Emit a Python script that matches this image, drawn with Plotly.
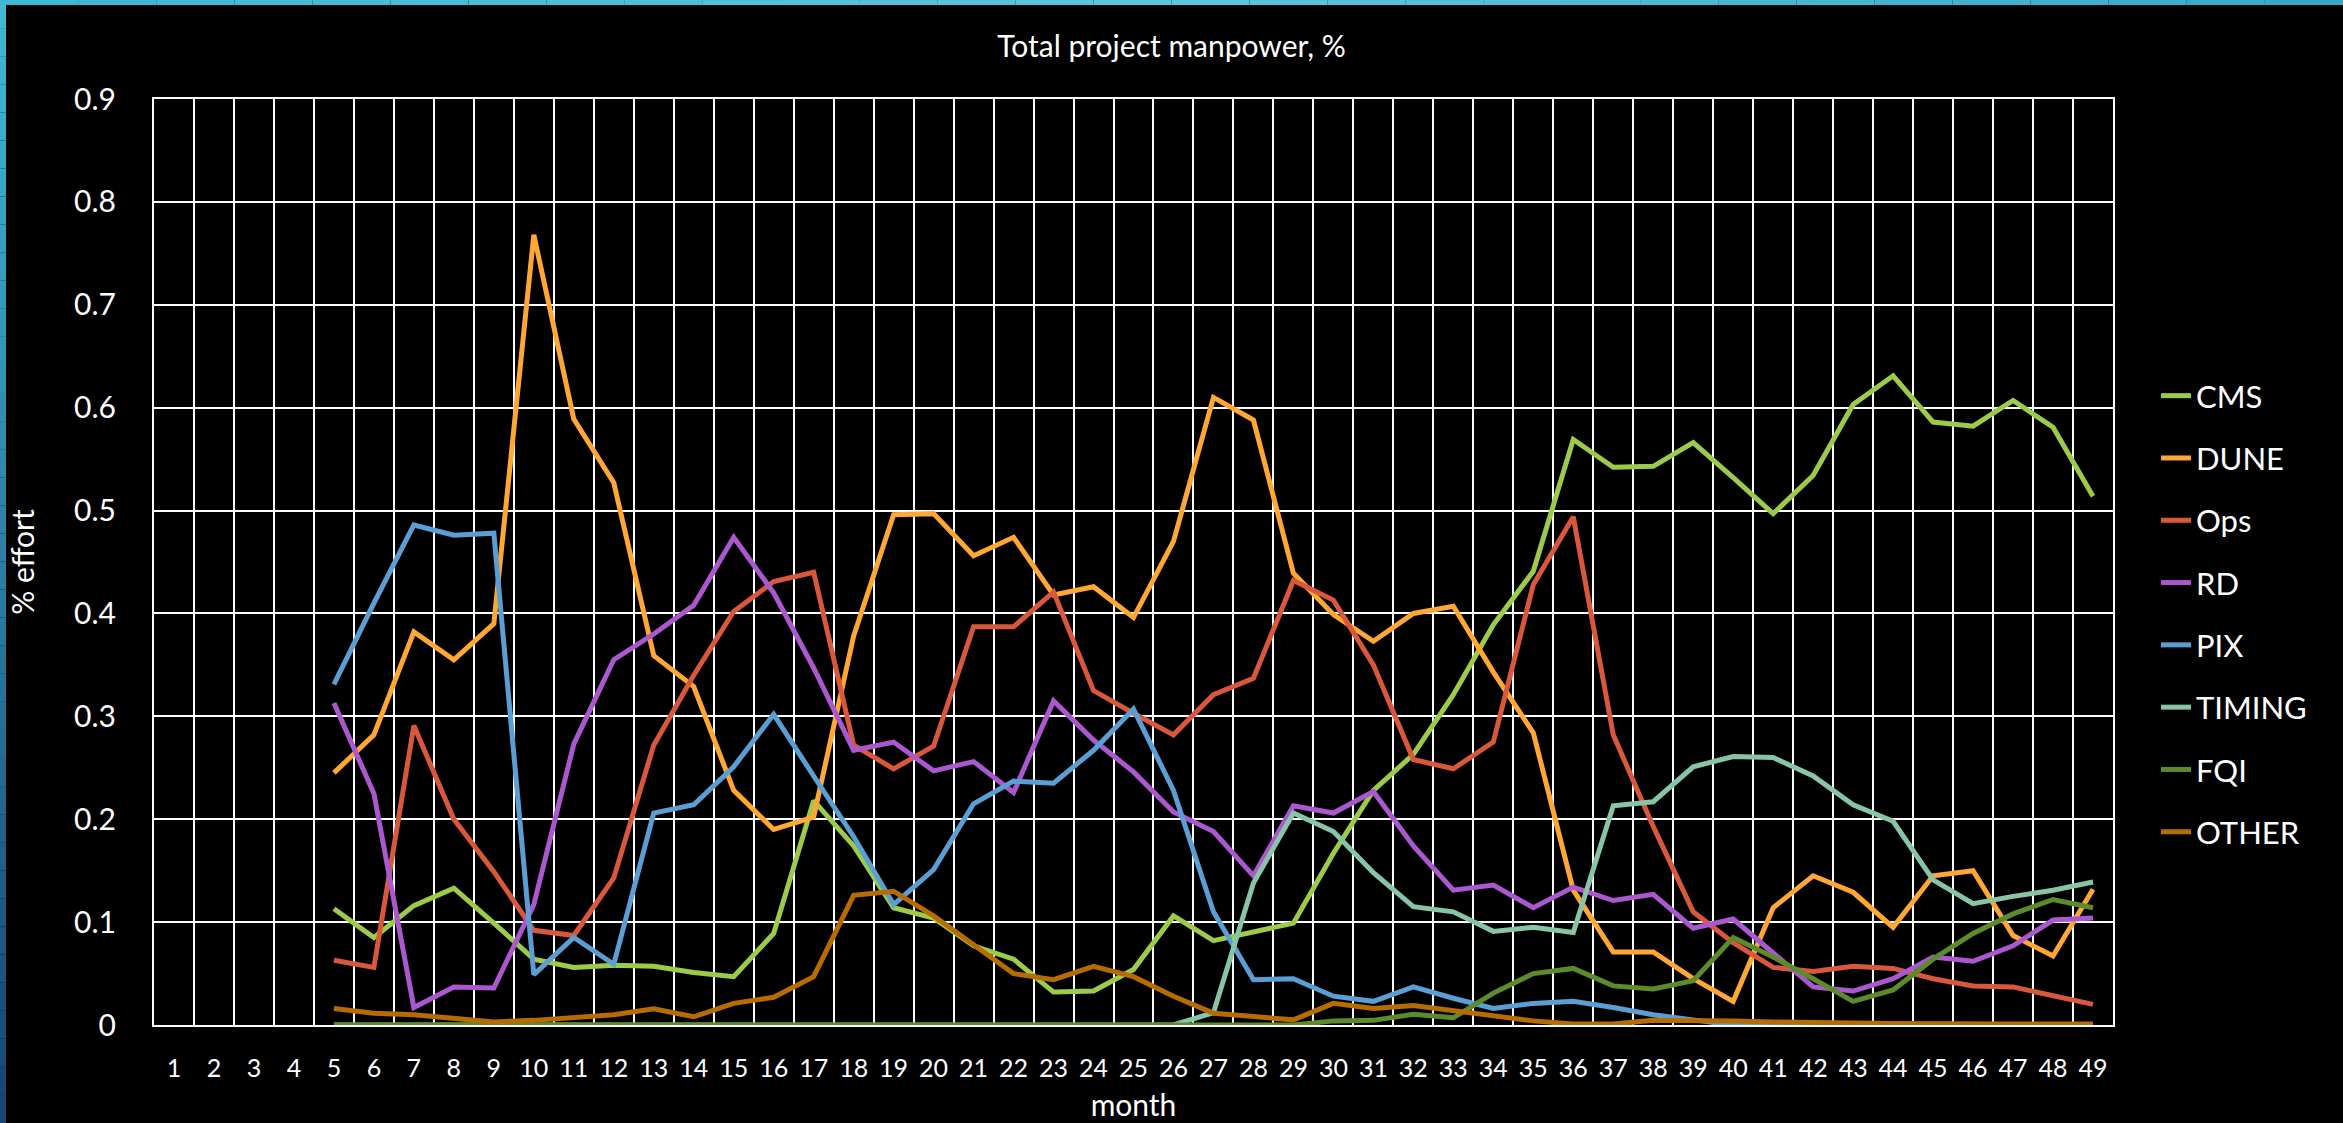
import plotly.graph_objects as go

months = [str(m) for m in range(1, 50)]
N = None

CMS = [N, N, N, N, .113, .085, .116, .133, .099, .064, .056, .058, .057, .051, .047, .089, .218, .174, .114, .104,
       .077, .064, .032, .033, .054, .106, .082, .091, .099, .167, .228, .263, .321, .389, .441, .569, .542, .543,
       .566, .532, .497, .534, .603, .631, .586, .582, .607, .581, .514]
DUNE = [N, N, N, N, .245, .282, .382, .355, .390, .768, .589, .527, .359, .329, .228, .190, .202, .378, .496, .497,
        .456, .474, .418, .426, .396, .470, .610, .588, .439, .399, .373, .400, .407, .343, .284, .131, .071, .071,
        .045, .023, .114, .145, .129, .095, .145, .150, .087, .067, .132]
Ops = [N, N, N, N, .063, .056, .291, .200, .149, .092, .087, .143, .272, .340, .402, .431, .440, .272, .249, .271,
       .387, .387, .421, .325, .303, .282, .321, .337, .432, .413, .350, .258, .249, .275, .428, .494, .282, .193,
       .110, .080, .056, .052, .057, .055, .045, .038, .037, .029, .020]
RD = [N, N, N, N, .313, .225, .017, .037, .036, .117, .273, .355, .380, .408, .474, .420, .347, .267, .275, .247,
      .256, .226, .315, .277, .246, .207, .188, .145, .213, .206, .227, .174, .131, .136, .114, .134, .121, .127,
      .094, .103, .070, .037, .033, .045, .066, .062, .077, .102, .104]
PIX = [N, N, N, N, .331, .410, .486, .476, .478, .049, .085, .059, .206, .214, .251, .302, .242, .183, .117, .151,
       .215, .237, .235, .267, .307, .228, .110, .044, .045, .028, .023, .037, .026, .016, .021, .023, .017, .010,
       .005, 0, 0, 0, 0, 0, 0, 0, 0, 0, 0]
TIMING = [N, N, N, N, 0, 0, 0, 0, 0, 0, 0, 0, 0, 0, 0, 0, 0, 0, 0, 0,
          0, 0, 0, 0, 0, 0, .012, .138, .206, .188, .148, .115, .110, .091, .095, .090, .213, .217,
          .251, .261, .260, .242, .214, .198, .141, .118, .125, .131, .139]
FQI = [N, N, N, N, 0, 0, 0, 0, 0, 0, 0, 0, 0, 0, 0, 0, 0, 0, 0, 0,
       0, 0, 0, 0, 0, 0, 0, 0, 0, .004, .0045, .0105, .007, .031, .050, .055, .038, .035,
       .043, .085, .066, .045, .023, .034, .064, .089, .108, .122, .114]
OTHER = [N, N, N, N, .016, .0115, .010, .006, .003, .0045, .007, .010, .0157, .008, .021, .027, .047, .126, .130, .106,
         .078, .050, .044, .057, .047, .028, .0115, .008, .005, .021, .016, .019, .014, .009, .004, .001, .001, .0045,
         .0045, .004, .003, .003, .002, .0015, .001, .001, .001, .001, .001]

series = [
    ("CMS", CMS, "#9BCB49"),
    ("DUNE", DUNE, "#FFA733"),
    ("Ops", Ops, "#D9573B"),
    ("RD", RD, "#AB57CF"),
    ("PIX", PIX, "#5B9ED4"),
    ("TIMING", TIMING, "#88C4A6"),
    ("FQI", FQI, "#5E8B2A"),
    ("OTHER", OTHER, "#B66C00"),
]

FONT = "Lato"
W, H = 2343, 1123
ML, MR, MT, MB = 154, 230, 99, 98
PW, PH = W - ML - MR, H - MT - MB

fig = go.Figure()
for name, vals, col in series:
    fig.add_trace(go.Scatter(x=months, y=vals, name=name, mode="lines", legendgroup=name,
                             line=dict(color=col, width=5)))


def px_x(p):
    return (p - ML) / PW


def px_y(p):
    return (H - MB - p) / PH


shapes = []
# left gradient strip
nseg = 40
c0 = (0x3D, 0xB9, 0xD3)
c1 = (0x19, 0x44, 0x72)
for i in range(nseg):
    t = i / (nseg - 1)
    c = tuple(int(c0[k] + (c1[k] - c0[k]) * t) for k in range(3))
    shapes.append(dict(type="rect", xref="paper", yref="paper", layer="above",
                       x0=px_x(0), x1=px_x(6), y0=px_y(H * i / nseg), y1=px_y(H * (i + 1) / nseg),
                       fillcolor="rgb(%d,%d,%d)" % c, line=dict(width=0)))
# top strip
tops = [(0x3F, 0xB8, 0xD4), (0x5C, 0xC6, 0xDD), (0x3A, 0xA9, 0xC9)]
nt = 30
for i in range(nt):
    t = i / (nt - 1) * 2
    a, b = (tops[0], tops[1]) if t <= 1 else (tops[1], tops[2])
    f = t if t <= 1 else t - 1
    c = tuple(int(a[k] + (b[k] - a[k]) * f) for k in range(3))
    shapes.append(dict(type="rect", xref="paper", yref="paper", layer="above",
                       x0=px_x(W * i / nt), x1=px_x(W * (i + 1) / nt), y0=px_y(0), y1=px_y(5),
                       fillcolor="rgb(%d,%d,%d)" % c, line=dict(width=0)))

fig.update_layout(
    width=W, height=H,
    paper_bgcolor="black", plot_bgcolor="black",
    margin=dict(l=ML, r=MR, t=MT, b=MB, autoexpand=False),
    font=dict(family=FONT, color="white", size=28),
    title=dict(text="Total project manpower, %", x=0.5, xref="container", xanchor="center",
               y=1 - 46 / H, yref="container", yanchor="middle",
               font=dict(family=FONT, size=30, color="white")),
    showlegend=True,
    legend=dict(x=px_x(2156), xanchor="left", y=px_y(614), yanchor="middle",
                font=dict(family=FONT, size=31, color="white"), tracegroupgap=19,
                bgcolor="rgba(0,0,0,0)"),
    shapes=shapes,
)
fig.update_xaxes(type="category", tickson="boundaries", showgrid=True, gridcolor="white", gridwidth=2,
                 showline=True, linecolor="white", linewidth=2, mirror=True, ticks="",
                 tickfont=dict(family=FONT, size=25, color="white"), ticklabelstandoff=20,
                 title=dict(text="month", font=dict(family=FONT, size=30, color="white"), standoff=14),
                 range=[-0.5, 48.5], zeroline=False, automargin=False)
fig.update_yaxes(range=[0, 0.9], dtick=0.1, tick0=0, showgrid=True, gridcolor="white", gridwidth=2,
                 showline=True, linecolor="white", linewidth=2, mirror=True, ticks="",
                 tickfont=dict(family=FONT, size=30, color="white"), ticklabelstandoff=30,
                 title=dict(text="% effort", font=dict(family=FONT, size=30, color="white"), standoff=31),
                 zeroline=False, automargin=False)

fig.write_html("out.html", config={"displayModeBar": False},
               post_script="document.body.style.margin='0';document.body.style.background='black';"
                           "document.documentElement.style.background='black';")
